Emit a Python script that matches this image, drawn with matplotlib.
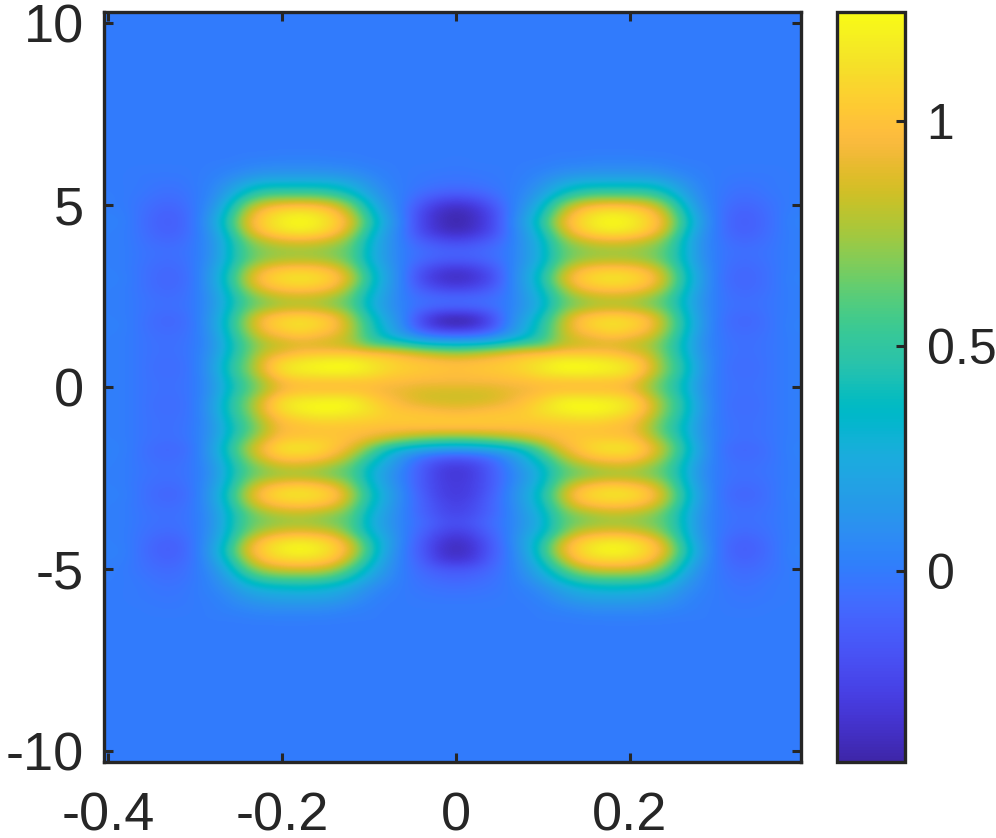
import numpy as np
import matplotlib
matplotlib.use("Agg")
import matplotlib.pyplot as plt
from matplotlib.colors import LinearSegmentedColormap

PARULA = [
(0.2422,0.1504,0.6603),(0.2504,0.1650,0.7076),(0.2578,0.1818,0.7511),(0.2647,0.1978,0.7952),
(0.2706,0.2147,0.8364),(0.2751,0.2342,0.8710),(0.2783,0.2559,0.8991),(0.2803,0.2782,0.9221),
(0.2813,0.3006,0.9414),(0.2810,0.3228,0.9579),(0.2795,0.3447,0.9717),(0.2760,0.3667,0.9829),
(0.2699,0.3892,0.9906),(0.2602,0.4123,0.9952),(0.2440,0.4358,0.9988),(0.2206,0.4603,0.9973),
(0.1963,0.4847,0.9892),(0.1834,0.5074,0.9798),(0.1786,0.5289,0.9682),(0.1764,0.5499,0.9520),
(0.1687,0.5703,0.9359),(0.1540,0.5902,0.9218),(0.1460,0.6091,0.9079),(0.1380,0.6276,0.8973),
(0.1248,0.6459,0.8883),(0.1113,0.6635,0.8763),(0.0952,0.6798,0.8598),(0.0689,0.6948,0.8394),
(0.0297,0.7082,0.8163),(0.0036,0.7203,0.7917),(0.0067,0.7312,0.7660),(0.0433,0.7411,0.7394),
(0.0964,0.7500,0.7120),(0.1408,0.7584,0.6842),(0.1717,0.7670,0.6554),(0.1938,0.7758,0.6251),
(0.2161,0.7843,0.5923),(0.2470,0.7918,0.5567),(0.2906,0.7973,0.5188),(0.3406,0.8008,0.4789),
(0.3909,0.8029,0.4354),(0.4456,0.8024,0.3909),(0.5044,0.7993,0.3480),(0.5616,0.7942,0.3045),
(0.6174,0.7876,0.2612),(0.6720,0.7793,0.2227),(0.7242,0.7698,0.1910),(0.7738,0.7598,0.1646),
(0.8203,0.7498,0.1535),(0.8634,0.7406,0.1596),(0.9035,0.7330,0.1774),(0.9393,0.7288,0.2100),
(0.9728,0.7298,0.2394),(0.9956,0.7434,0.2371),(0.9970,0.7659,0.2199),(0.9952,0.7893,0.2028),
(0.9892,0.8136,0.1885),(0.9786,0.8386,0.1766),(0.9676,0.8639,0.1643),(0.9610,0.8890,0.1537),
(0.9597,0.9135,0.1423),(0.9628,0.9373,0.1265),(0.9691,0.9606,0.1064),(0.9769,0.9839,0.0805)]

# Values (x100): rows 15..64 of 80 from the top,
# columns x = -0.40, -0.38 ... 0 (the right half mirrors these).
left_half = [
[0,0,0,0,0,0,0,0,1,1,2,2,2,1,1,0,0,0,0,0,0],
[0,0,0,0,0,0,1,2,4,6,6,6,6,5,4,2,1,0,0,0,-1],
[0,0,-1,-1,-1,0,2,6,11,14,15,15,15,14,11,6,2,0,-1,-2,-2],
[0,0,-1,-3,-3,0,4,14,26,34,34,34,34,32,24,13,4,0,-2,-4,-5],
[1,0,-2,-5,-5,-1,6,22,42,54,56,56,56,50,38,20,7,0,-7,-12,-14],
[1,0,-4,-8,-8,-1,9,34,66,84,90,92,90,82,62,32,11,-1,-16,-28,-32],
[2,1,-5,-11,-11,-2,14,44,82,104,114,118,114,102,78,42,16,-2,-24,-36,-40],
[3,2,-6,-12,-12,-2,18,50,90,108,120,124,120,108,88,50,20,0,-25,-36,-42],
[2,1,-5,-11,-11,-2,14,44,82,104,114,118,114,102,78,42,16,-2,-23,-34,-38],
[2,1,-4,-8,-8,-1,11,36,66,80,88,90,88,80,64,34,14,-1,-13,-20,-24],
[2,1,-3,-5,-5,-1,11,36,60,70,73,74,73,68,60,32,14,0,-6,-10,-11],
[2,1,-3,-6,-6,-1,12,36,60,72,77,78,77,72,60,32,14,0,-8,-13,-14],
[2,1,-4,-8,-8,-1,16,42,74,94,102,104,102,94,72,40,18,0,-18,-28,-32],
[3,2,-4,-9,-9,-2,18,46,82,104,112,116,112,104,82,45,20,0,-23,-33,-37],
[2,1,-4,-8,-8,-1,16,42,74,94,102,104,102,94,70,40,18,0,-15,-24,-27],
[2,1,-3,-6,-6,-1,13,36,60,74,81,83,81,74,60,33,16,0,-6,-8,-9],
[2,1,-3,-5,-5,-1,13,36,60,70,77,78,77,70,60,32,14,2,-6,-9,-10],
[2,1,-3,-8,-8,-1,15,42,72,96,104,108,104,96,72,42,20,3,-20,-35,-38],
[3,2,-4,-8,-8,-2,16,44,76,100,110,114,110,100,78,48,25,5,-22,-36,-40],
[2,1,-3,-6,-6,-1,13,40,68,90,98,104,98,92,76,50,30,14,0,-8,-10],
[2,1,-3,-5,-5,-1,11,36,60,76,82,86,85,82,78,60,55,48,38,34,33],
[2,1,-3,-5,-5,0,13,38,62,84,92,100,102,103,102,100,98,92,86,80,76],
[2,1,-3,-6,-6,-1,16,44,66,94,112,118,122,124,124,116,110,105,102,100,99],
[2,1,-3,-6,-6,-1,16,44,66,92,112,118,120,122,120,116,108,104,102,100,98],
[2,1,-3,-5,-5,-1,13,38,58,78,95,100,100,100,100,100,98,97,95,95,95],
[2,1,-3,-5,-5,-1,13,38,58,78,95,100,100,100,100,98,93,90,86,85,85],
[2,1,-3,-6,-6,-1,16,44,66,92,112,118,120,122,120,108,100,92,86,84,84],
[2,1,-3,-6,-6,-1,17,44,66,94,112,120,124,124,120,114,104,100,98,95,93],
[2,1,-3,-5,-5,-1,14,40,60,84,100,106,110,110,108,106,104,104,104,104,104],
[2,1,-3,-5,-5,0,13,36,56,78,96,98,100,100,100,99,98,98,98,98,98],
[2,1,-3,-5,-5,0,14,40,64,86,100,102,103,102,98,92,84,76,70,66,65],
[3,2,-4,-8,-8,-2,18,46,76,98,114,116,112,102,90,68,46,34,28,24,22],
[3,1,-4,-7,-7,-1,16,42,70,92,104,104,102,92,74,50,28,10,-4,-12,-15],
[2,1,-3,-5,-5,-1,12,36,60,74,83,84,80,72,60,36,20,3,-14,-26,-30],
[2,1,-3,-5,-5,-1,11,36,60,70,74,74,72,66,58,33,15,0,-14,-28,-32],
[2,1,-4,-7,-7,-1,14,40,72,92,100,104,100,90,68,38,18,2,-15,-26,-30],
[3,2,-4,-9,-9,-2,17,46,82,104,114,116,112,104,78,44,22,4,-12,-26,-30],
[2,1,-4,-7,-7,-1,15,42,74,94,102,104,102,94,70,40,20,3,-10,-22,-27],
[2,1,-3,-5,-5,-1,12,36,60,74,80,82,78,72,60,33,17,2,-10,-20,-25],
[2,1,-3,-5,-5,-1,11,36,60,68,72,74,72,66,58,30,15,2,-6,-16,-20],
[2,1,-4,-7,-7,-1,12,38,64,80,88,90,88,82,60,34,18,2,-10,-22,-28],
[2,1,-5,-11,-11,-2,15,44,82,104,114,118,114,104,82,45,22,2,-14,-30,-36],
[3,2,-6,-12,-12,-2,18,50,90,108,120,124,120,108,88,50,20,0,-15,-32,-38],
[2,1,-5,-10,-10,-2,14,42,78,100,108,110,108,100,74,42,16,0,-12,-28,-33],
[1,0,-4,-7,-7,-1,9,30,60,78,84,86,84,74,54,30,12,0,-8,-14,-16],
[1,0,-2,-5,-5,-1,6,20,40,52,56,56,56,50,36,20,8,0,-5,-8,-10],
[0,0,-1,-3,-3,0,4,12,24,30,32,34,32,28,20,10,3,0,-3,-4,-5],
[0,0,-1,-2,-2,0,2,7,14,18,20,20,20,18,12,5,1,0,-1,-2,-2],
[0,0,0,-1,-1,0,1,4,7,9,10,10,10,8,5,2,0,0,0,0,0],
[0,0,0,0,0,0,1,1,2,3,3,3,3,2,1,1,0,0,0,0,0],
]
first_row = 15
n_rows = 80
x_ticks = [-0.4, -0.2, 0, 0.2]
x_labels = ['-0.4', '-0.2', '0', '0.2']
y_ticks = [-10, -5, 0, 5, 10]
y_labels = ['-10', '-5', '0', '5', '10']
c_ticks = [0, 0.5, 1]
c_labels = ['0', '0.5', '1']
c_min, c_max = -0.424, 1.242

half = np.array(left_half) / 100.0
band = np.hstack([half, half[:, -2::-1]])
grid = np.zeros((n_rows, band.shape[1]))
grid[first_row:first_row + band.shape[0]] = band

INK = '#262626'
plt.rcParams['font.family'] = ['Liberation Sans', 'DejaVu Sans']
W, H = 996, 838
fig = plt.figure(figsize=(W / 100, H / 100), dpi=100)
ax = fig.add_axes([104 / W, 1 - 762 / H, 697 / W, 750 / H])
cax = fig.add_axes([837 / W, 1 - 762 / H, 68 / W, 750 / H])
cmap = LinearSegmentedColormap.from_list('parula', PARULA, N=256)

im = ax.imshow(grid, cmap=cmap, vmin=c_min, vmax=c_max, aspect='auto',
               extent=(-0.41, 0.41, -10.3, 10.3), origin='upper',
               interpolation='bicubic', interpolation_stage='data')
ax.set_xlim(-0.4046, 0.3966)
ax.set_ylim(-10.3, 10.3)
ax.set_xticks(x_ticks, x_labels)
ax.set_yticks(y_ticks, y_labels)
ax.tick_params(axis='both', direction='in', length=6.5, width=2.2, color=INK,
               labelcolor=INK, labelsize=39, top=True, right=True)
ax.tick_params(axis='x', pad=21)
ax.tick_params(axis='y', pad=14.5)

cb = fig.colorbar(im, cax=cax)
cb.set_ticks(c_ticks, labels=c_labels)
cb.minorticks_off()
cax.tick_params(axis='y', direction='in', length=6.5, width=2.2, color=INK,
                labelcolor=INK, labelsize=36, pad=15.5, right=True, left=False)
for a in (ax, cax):
    for s in a.spines.values():
        s.set_linewidth(2.4)
        s.set_color(INK)
cb.outline.set_linewidth(2.4)
cb.outline.set_edgecolor(INK)

fig.savefig('out.png', dpi=100)
